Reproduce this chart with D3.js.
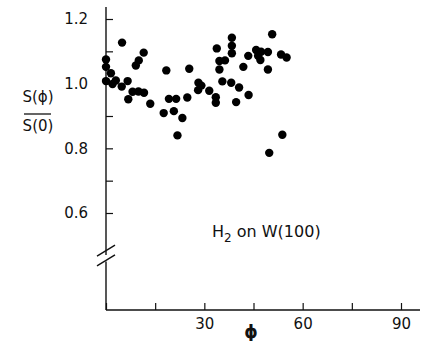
<!DOCTYPE html>
<html>
<head>
<meta charset="utf-8">
<script src="https://cdn.jsdelivr.net/npm/d3@7"></script>
<style>
  body { margin: 0; background: #fff; }
  text { font-family: "DejaVu Sans", sans-serif; fill: #111; }
</style>
</head>
<body>
<script>
// angle phi (deg) and S(phi)/S(0)
var phi = [0, 0, 0, 1.5, 2.0, 3.0, 4.9, 4.8, 6.6, 6.8,
           9.1, 10.0, 11.5, 8.1, 9.9, 11.6, 13.5, 18.4, 17.6, 19.2,
           21.4, 20.7, 23.3, 21.8, 25.4, 24.8, 28.2, 28.1, 29.1, 31.5,
           33.5, 33.5, 33.8, 34.6, 36.3, 34.6, 35.5, 38.2, 38.4, 38.4,
           38.4, 39.7, 40.6, 41.9, 43.4, 43.5, 45.8, 47.3, 46.4, 47.1,
           49.4, 49.4, 50.7, 53.4, 55.1, 53.8, 49.8];
var ratio = [1.075, 1.052, 1.008, 1.032, 0.999, 1.010, 1.127, 0.991, 1.008, 0.952,
             1.056, 1.072, 1.096, 0.975, 0.976, 0.972, 0.938, 1.041, 0.909, 0.953,
             0.953, 0.915, 0.894, 0.840, 1.046, 0.957, 1.003, 0.980, 0.994, 0.978,
             0.958, 0.941, 1.109, 1.070, 1.072, 1.044, 1.007, 1.003, 1.142, 1.117,
             1.094, 0.943, 0.988, 1.052, 1.086, 0.965, 1.104, 1.099, 1.086, 1.073,
             1.098, 1.044, 1.153, 1.090, 1.081, 0.842, 0.786];

var xTicks = [0, 15, 30, 45, 60, 75, 90];
var xLabels = [30, 60, 90];
var yTicks = [0.6, 0.7, 0.8, 0.9, 1.0, 1.1, 1.2];
var yLabels = ["0.6", "0.8", "1.0", "1.2"];

var w = 422;
var h = 341;

var svg = d3.select('body')
              .append('svg')
              .attr('width', w)
              .attr('height', h);

var x = d3.scaleLinear().domain([0, 90]).range([106, 401]);
var y = d3.scaleLinear().domain([0.3, 1.2]).range([310, 19]);

// x axis, ticks point up into the plot
var xAxis = d3.axisBottom(x)
    .tickValues(xTicks)
    .tickSizeInner(-7)
    .tickSizeOuter(0)
    .tickPadding(8)
    .tickFormat(function(d) { return xLabels.indexOf(d) >= 0 ? d : ''; });

var gx = svg.append('g')
    .attr('transform', 'translate(0,' + y(0.3) + ')')
    .call(xAxis);
gx.select('.domain').remove();
gx.selectAll('line').attr('stroke', '#111').attr('stroke-width', 1.2);
gx.selectAll('text').style('font-size', '15px').style('font-family', '"DejaVu Sans", sans-serif');

// y axis, ticks point right into the plot
var yAxis = d3.axisLeft(y)
    .tickValues(yTicks)
    .tickSizeInner(-7)
    .tickSizeOuter(0)
    .tickPadding(18)
    .tickFormat(function(d) {
      var s = d.toFixed(1);
      return yLabels.indexOf(s) >= 0 ? s : '';
    });

var gy = svg.append('g')
    .attr('transform', 'translate(' + x(0) + ',0)')
    .call(yAxis);
gy.select('.domain').remove();
gy.selectAll('line').attr('stroke', '#111').attr('stroke-width', 1.2);
gy.selectAll('text').style('font-size', '15px').style('font-family', '"DejaVu Sans", sans-serif');

// axis lines, y one broken between 0.6 and the origin
var axisStyle = function(sel) {
  sel.attr('stroke', '#111').attr('stroke-width', 1.4).attr('fill', 'none');
};
svg.append('line')
    .attr('x1', x(0)).attr('x2', 420)
    .attr('y1', y(0.3)).attr('y2', y(0.3))
    .call(axisStyle);
svg.append('line')
    .attr('x1', x(0)).attr('x2', x(0))
    .attr('y1', 7).attr('y2', y(0.47))
    .call(axisStyle);
svg.append('line')
    .attr('x1', x(0)).attr('x2', x(0))
    .attr('y1', y(0.45)).attr('y2', y(0.3))
    .call(axisStyle);
// the break marks
[0.485, 0.455].forEach(function(v) {
  svg.append('line')
      .attr('x1', x(0) - 9).attr('y1', y(v) + 6)
      .attr('x2', x(0) + 9).attr('y2', y(v) - 5)
      .call(axisStyle);
});

// points
svg.selectAll('circle')
    .data(phi)
    .enter()
    .append('circle')
    .attr('cx', function(d) { return x(d); })
    .attr('cy', function(d, i) { return y(ratio[i]); })
    .attr('r', 4.2)
    .attr('fill', '#000');

// y axis title as a fraction
svg.append('text')
    .attr('x', 38).attr('y', 102)
    .attr('text-anchor', 'middle')
    .style('font-size', '15px')
    .text('S(\u03d5)');
svg.append('line')
    .attr('x1', 24).attr('x2', 51)
    .attr('y1', 114).attr('y2', 114)
    .attr('stroke', '#111').attr('stroke-width', 1.3);
svg.append('text')
    .attr('x', 38).attr('y', 131)
    .attr('text-anchor', 'middle')
    .style('font-size', '15px')
    .text('S(0)');

// x axis title
svg.append('text')
    .attr('x', 251).attr('y', 338)
    .attr('text-anchor', 'middle')
    .style('font-size', '17px')
    .style('font-weight', 'bold')
    .text('\u03d5');

// annotation
var ann = svg.append('text')
    .attr('x', 212).attr('y', 237)
    .style('font-size', '16px');
ann.append('tspan').text('H');
ann.append('tspan').attr('dy', 5).style('font-size', '12px').text('2');
ann.append('tspan').attr('dy', -5).text(' on  W(100)');
</script>
</body>
</html>
